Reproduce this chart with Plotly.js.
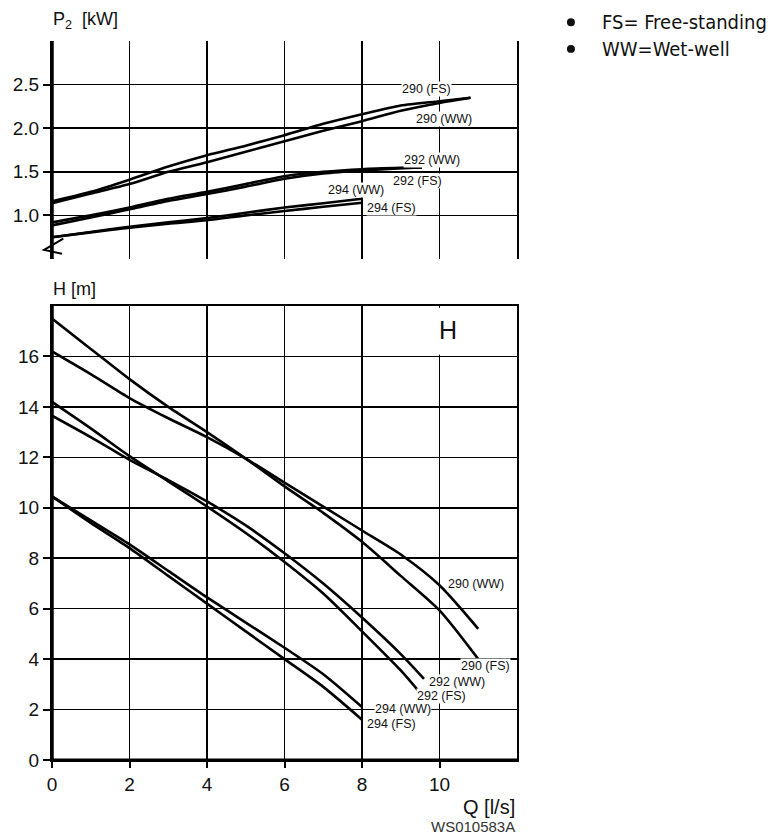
<!DOCTYPE html>
<html><head><meta charset="utf-8">
<script src="https://cdn.plot.ly/plotly-3.0.1.min.js"></script>
<style>html,body{margin:0;padding:0;background:#fff}#chart{width:775px;height:836px}</style>
</head><body><div id="chart"></div>
<script>
// ---- P2 [kW] (top panel) ----
const qP290 = [0,1,2,3,4,5,6,7,8,9,10,10.8];
const p290FS = [1.16,1.27,1.41,1.56,1.69,1.80,1.92,2.05,2.16,2.26,2.31,2.35];
const p290WW = [1.14,1.25,1.36,1.50,1.61,1.73,1.85,1.97,2.08,2.20,2.29,2.35];
const qP292 = [0,1,2,3,4,5,6,7,8,9,9.55];
const p292WW = [0.92,1.00,1.09,1.19,1.27,1.36,1.45,1.50,1.53,1.545,1.55];
const p292FS = [0.885,0.975,1.07,1.165,1.245,1.33,1.42,1.48,1.515,1.54,1.55];
const qP294 = [0,1,2,3,4,5,6,7,8];
const p294WW = [0.75,0.81,0.87,0.92,0.97,1.03,1.09,1.14,1.19];
const p294FS = [0.75,0.805,0.86,0.905,0.945,1.00,1.05,1.10,1.145];

// ---- H [m] (bottom panel) ----
const qH290 = [0,1,2,3,4,5,6,7,8,9,10,11];
const h290FS = [17.5,16.3,15.1,14.0,13.0,11.95,10.85,9.8,8.65,7.3,5.93,4.0];
const h290WW = [16.2,15.3,14.35,13.55,12.8,11.95,11.0,10.05,9.1,8.15,6.93,5.2];
const qH292FS = [0,1,2,3,4,5,6,7,8,9,9.45];
const h292FS = [14.2,13.15,12.05,11.05,10.05,9.0,7.85,6.6,5.1,3.55,2.75];
const qH292WW = [0,1,2,3,4,5,6,7,8,9,9.6];
const h292WW = [13.65,12.8,11.9,11.1,10.25,9.3,8.2,7.0,5.65,4.2,3.22];
const qH294 = [0,1,2,3,4,5,6,7,8];
const h294WW = [10.45,9.5,8.55,7.5,6.45,5.45,4.45,3.4,2.1];
const h294FS = [10.45,9.4,8.4,7.3,6.2,5.1,4.0,2.9,1.6];

// ---- ticks & labels ----
const qTicks = [0,2,4,6,8,10];
const hTicks = [0,2,4,6,8,10,12,14,16];
const pTicks = [1.0,1.5,2.0,2.5];
const pTickText = ['1.0','1.5','2.0','2.5'];
const curveNames = ['290 (FS)','290 (WW)','292 (WW)','292 (FS)','294 (WW)','294 (FS)'];
const notes = ['FS= Free-standing','WW=Wet-well'];

const lineStyle = {color:'#000', width:2.6, shape:'spline', smoothing:0.7};
function tr(x,y,ya,name){return {x:x,y:y,xaxis:'x',yaxis:ya,type:'scatter',mode:'lines',line:lineStyle,name:name,showlegend:false,hoverinfo:'skip'};}

const data = [
  tr(qP290,p290FS,'y2',curveNames[0]),
  tr(qP290,p290WW,'y2',curveNames[1]),
  tr(qP292,p292WW,'y2',curveNames[2]),
  tr(qP292,p292FS,'y2',curveNames[3]),
  tr(qP294,p294WW,'y2',curveNames[4]),
  tr(qP294,p294FS,'y2',curveNames[5]),
  tr(qH290,h290FS,'y',curveNames[0]),
  tr(qH290,h290WW,'y',curveNames[1]),
  tr(qH292WW,h292WW,'y',curveNames[2]),
  tr(qH292FS,h292FS,'y',curveNames[3]),
  tr(qH294,h294WW,'y',curveNames[4]),
  tr(qH294,h294FS,'y',curveNames[5])
];

const SANS = '"Liberation Sans", Arial, Helvetica, sans-serif';
const numFont = {family:SANS, size:19, color:'#111'};
const lblFont = {family:SANS, size:12.5, color:'#111'};
const noteFont = {family:'"Liberation Sans Narrow", "DejaVu Sans Condensed", "Open Sans", sans-serif', size:20, color:'#111'};

function lab(text,x,y,yref){return {text:text,x:x,y:y,xref:'x',yref:yref,showarrow:false,font:lblFont,bgcolor:'#fff',borderpad:0,xanchor:'center',yanchor:'middle'};}

const axBase = {showgrid:true, gridcolor:'#000', gridwidth:1.6, showline:true, linecolor:'#000', linewidth:2, mirror:true, zeroline:false, tickcolor:'#000', tickwidth:2, tickfont:numFont};

const layout = {
  width:775, height:836,
  margin:{l:52, r:258, t:41, b:76},
  paper_bgcolor:'#fff', plot_bgcolor:'#fff',
  showlegend:false,
  font:{family:SANS},
  xaxis: Object.assign({}, axBase, {domain:[0,1], anchor:'y', range:[0,12], tickvals:qTicks, ticks:'outside', ticklen:6}),
  yaxis: Object.assign({}, axBase, {domain:[0,0.6314], anchor:'x', range:[0,18], tickvals:hTicks, ticks:'outside', ticklen:7}),
  xaxis2: Object.assign({}, axBase, {domain:[0,1], anchor:'y2', matches:'x', range:[0,12], tickvals:qTicks, showticklabels:false, ticks:''}),
  yaxis2: Object.assign({}, axBase, {domain:[0.6968,1], anchor:'x2', range:[0.5,3.0], tickvals:pTicks, ticktext:pTickText, ticks:'outside', ticklen:7}),
  shapes:[
    // heavy left axis lines
    {type:'line', xref:'paper', yref:'paper', x0:0, x1:0, y0:0, y1:0.6314, line:{color:'#000', width:3.5}},
    {type:'line', xref:'paper', yref:'paper', x0:0, x1:0, y0:0.6968, y1:1, line:{color:'#000', width:3.5}},
    {type:'line', xref:'paper', yref:'paper', x0:0, x1:1, y0:0, y1:0, line:{color:'#000', width:3}},
    // gap in x=10 gridline behind the "H" mark
    {type:'rect', xref:'x', yref:'y', x0:9.85, x1:10.15, y0:16.07, y1:17.93, fillcolor:'#fff', line:{width:0}, layer:'above'},
    // axis break mark
    {type:'path', xref:'paper', yref:'paper', path:'M 0.0243 0.7250 L -0.0170 0.7095 L 0.0215 0.7040', line:{color:'#000', width:2}},
    // legend bullets
    {type:'circle', xref:'paper', yref:'paper', x0:1.1074, x1:1.1246, y0:1.0205, y1:1.0315, fillcolor:'#111', line:{width:0}},
    {type:'circle', xref:'paper', yref:'paper', x0:1.1074, x1:1.1246, y0:0.9835, y1:0.9945, fillcolor:'#111', line:{width:0}}
  ],
  annotations:[
    {text:'P<sub>2</sub>  [kW]', xref:'paper', yref:'paper', x:-0.002, y:1.029, xanchor:'left', yanchor:'middle', showarrow:false, font:{family:SANS, size:18, color:'#111'}},
    {text:'H [m]', xref:'paper', yref:'paper', x:-0.002, y:0.655, xanchor:'left', yanchor:'middle', showarrow:false, font:{family:SANS, size:18, color:'#111'}},
    {text:'H', xref:'paper', yref:'paper', x:0.852, y:0.598, xanchor:'center', yanchor:'middle', showarrow:false, font:{family:SANS, size:25, color:'#111'}},
    {text:'Q [l/s]', xref:'paper', yref:'paper', x:1.0, y:-0.065, xanchor:'right', yanchor:'middle', showarrow:false, font:{family:SANS, size:20, color:'#111'}},
    {text:'WS010583A', xref:'paper', yref:'paper', x:1.0, y:-0.093, xanchor:'right', yanchor:'middle', showarrow:false, font:{family:SANS, size:15, color:'#333'}},
    {text:notes[0], xref:'paper', yref:'paper', x:1.178, y:1.026, xanchor:'left', yanchor:'middle', showarrow:false, font:noteFont},
    {text:notes[1], xref:'paper', yref:'paper', x:1.178, y:0.989, xanchor:'left', yanchor:'middle', showarrow:false, font:noteFont},
    // top panel curve labels
    lab(curveNames[0], 9.67, 2.455, 'y2'),
    lab(curveNames[1], 10.12, 2.11, 'y2'),
    lab(curveNames[2], 9.81, 1.638, 'y2'),
    lab(curveNames[3], 9.44, 1.398, 'y2'),
    lab(curveNames[4], 7.85, 1.293, 'y2'),
    lab(curveNames[5], 8.77, 1.088, 'y2'),
    // bottom panel curve labels
    lab(curveNames[1], 10.94, 6.97, 'y'),
    lab(curveNames[0], 11.19, 3.73, 'y'),
    lab(curveNames[2], 10.45, 3.1, 'y'),
    lab(curveNames[3], 10.06, 2.54, 'y'),
    lab(curveNames[4], 9.06, 2.02, 'y'),
    lab(curveNames[5], 8.77, 1.43, 'y')
  ]
};

Plotly.newPlot('chart', data, layout, {staticPlot:true, displayModeBar:false});
</script>
</body></html>
